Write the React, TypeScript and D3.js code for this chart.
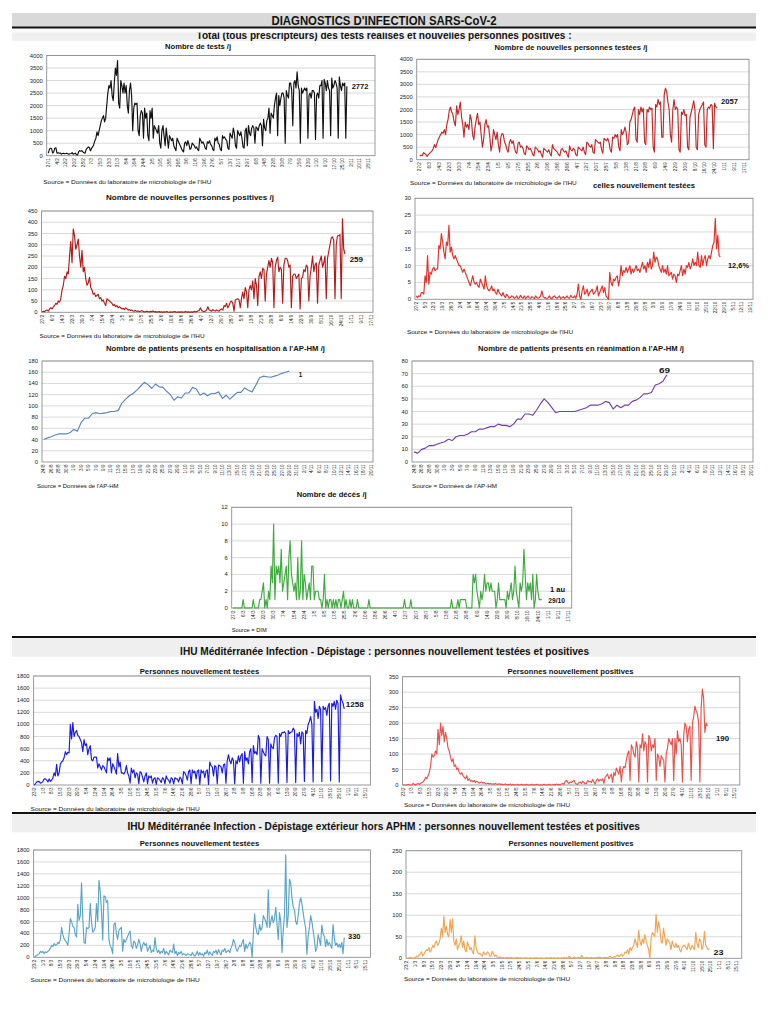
import React from "react";
import * as d3 from "d3";

const FONT = "'Liberation Sans Narrow','Arial Narrow','Liberation Sans',Arial,Helvetica,sans-serif";

// ---------------- tick labels ----------------
const TICKS_TESTS = ["27/1","4/2","12/2","20/2","28/2","7/3","15/3","23/3","31/3","8/4","16/4","24/4","2/5","10/5","18/5","26/5","3/6","11/6","19/6","27/6","5/7","13/7","21/7","29/7","6/8","14/8","22/8","30/8","7/9","15/9","23/9","1/10","9/10","17/10","25/10","2/11","10/11","18/11"];
const TICKS_F27_8 = ["27/2","6/3","14/3","22/3","30/3","7/4","15/4","23/4","1/5","9/5","17/5","25/5","2/6","10/6","18/6","26/6","4/7","12/7","20/7","28/7","5/8","13/8","21/8","29/8","6/9","14/9","22/9","30/9","8/10","16/10","24/10","1/11","9/11","17/11"];
const TICKS_F27_7 = ["27/2","5/3","12/3","19/3","26/3","2/4","9/4","16/4","23/4","30/4","7/5","14/5","21/5","28/5","4/6","11/6","18/6","25/6","2/7","9/7","16/7","23/7","30/7","6/8","13/8","20/8","27/8","3/9","10/9","17/9","24/9","1/10","8/10","15/10","22/10","29/10","5/11","12/11","19/11"];
const TICKS_A24_2 = ["24/8","26/8","28/8","30/8","1/9","3/9","5/9","7/9","9/9","11/9","13/9","15/9","17/9","19/9","21/9","23/9","25/9","27/9","29/9","1/10","3/10","5/10","7/10","9/10","11/10","13/10","15/10","17/10","19/10","21/10","23/10","25/10","27/10","29/10","31/10","2/11","4/11","6/11","8/11","10/11","12/11","14/11","16/11","18/11","20/11"];
const TICKS_F23_7 = ["23/2","1/3","8/3","15/3","22/3","29/3","5/4","12/4","19/4","26/4","3/5","10/5","17/5","24/5","31/5","7/6","14/6","21/6","28/6","5/7","12/7","19/7","26/7","2/8","9/8","16/8","23/8","30/8","6/9","13/9","20/9","27/9","4/10","11/10","18/10","25/10","1/11","8/11","15/11"];

// ---------------- data (daily values) ----------------
// Nombre de tests /j, from 27/1
const TESTS = [
  100,250,300,280,100,150,300,
  320,100,120,100,110,60,90,
  100,80,90,100,80,60,80,
  90,120,60,80,100,40,30,
  150,200,180,200,150,120,100,
  250,300,350,320,200,300,350,
  450,600,700,950,800,1000,1200,
  1400,1500,1600,1350,1500,2000,2500,
  2800,2700,3000,2400,2200,2900,3500,
  3200,3800,2100,1900,3000,2800,2500,
  2900,2500,2800,2000,1700,2600,2900,
  2400,1000,1900,2100,2050,2100,1000,
  800,1600,1800,1700,700,1900,1500,
  1700,800,600,1800,1500,1900,700,
  1200,1100,1000,900,1200,500,300,
  1000,1200,800,400,1100,700,300,
  800,700,600,700,400,300,200,
  700,600,500,400,300,200,150,
  500,550,400,600,450,250,300,
  500,450,400,300,350,250,200,
  700,600,500,550,450,300,250,
  550,500,600,450,400,250,200,
  700,600,750,500,450,250,200,
  800,700,750,650,600,300,250,
  900,800,700,1100,900,400,300,
  1000,900,800,950,700,350,300,
  1000,1100,400,1200,900,800,1100,
  1200,1100,500,1150,1100,1000,1200,
  1300,1200,400,1450,1100,1000,1400,
  1500,1900,900,1700,1600,1500,2000,
  2300,2500,800,2400,2000,2300,2500,
  2500,2300,500,2600,2400,2300,2900,
  2900,2600,1200,2900,3000,2700,3350,
  2800,2600,500,2700,2500,2600,2700,
  2600,2700,700,2400,2500,2300,2600,
  2600,2500,650,2400,2500,2300,2800,
  2800,3000,700,3050,2900,2600,3000,
  2700,2600,800,3100,2700,2800,3000,
  2900,2700,700,3150,2800,2600,2900,
  2800,2900,700,2772,
];

// Nombre de nouvelles personnes testées /j, from 27/2
const NEW_TESTED = [
  150,180,160,280,250,200,130,
  200,250,300,350,450,600,480,
  650,800,900,1000,1100,1050,1200,
  1000,1400,1600,1950,2100,1900,1800,
  1500,1350,2150,1800,2000,2300,1700,
  1400,900,1500,1300,1400,1200,1800,
  1600,1000,800,1300,1600,1850,1400,
  1500,1000,500,800,1400,1600,1300,
  1350,900,350,600,1200,1000,800,
  1100,600,300,900,1050,1000,700,
  600,400,300,700,800,650,750,
  500,300,250,650,700,500,550,
  450,250,200,550,500,400,450,
  350,200,150,500,450,400,300,
  350,200,100,450,400,350,300,
  400,250,150,600,450,400,350,
  300,200,150,400,450,350,300,
  350,200,100,550,400,350,450,
  400,200,150,500,450,400,350,
  500,300,200,700,650,550,500,
  600,300,250,800,750,700,650,
  700,400,250,850,800,750,850,
  700,400,300,900,850,1000,900,
  1000,500,350,1200,1000,1100,1300,
  1100,600,700,1500,1600,1800,2000,
  2100,800,700,2000,1800,2100,1900,
  2050,700,600,2000,1900,2100,2000,
  2050,500,300,2200,2100,2400,2200,
  2300,900,900,2600,2850,2700,2300,
  2000,1000,700,2000,2400,2000,2100,
  2000,400,300,1900,1800,2000,1750,
  1800,500,400,1700,1900,2100,2350,
  2000,500,400,1800,2000,2100,2200,
  2300,600,500,2000,2100,2050,2200,
  2150,450,2250,2100,2057,
];

// Nombre de nouvelles personnes positives /j, from 27/2
const NEW_POSITIVE = [
  2,5,3,8,10,5,15,
  20,15,25,30,40,35,50,
  45,60,100,120,160,150,180,
  170,250,315,220,370,340,280,
  300,325,250,200,275,180,200,
  150,120,130,155,110,100,80,
  85,70,75,80,60,65,50,
  55,40,30,60,55,50,45,
  40,30,35,25,30,20,25,
  20,15,18,12,20,15,10,
  12,8,10,6,5,8,4,
  6,3,5,8,4,2,3,
  5,3,2,4,3,6,2,
  3,1,2,3,1,2,0,
  2,1,3,1,0,2,1,
  1,3,2,0,1,2,1,
  2,1,0,3,1,2,1,
  1,2,0,4,2,3,6,
  8,20,8,5,3,6,10,
  25,10,8,5,12,8,6,
  10,8,5,12,15,10,30,
  25,40,20,30,45,50,40,
  5,55,58,60,55,20,62,
  90,60,110,90,20,100,120,
  100,140,60,150,120,30,160,
  180,150,195,190,50,170,200,
  230,200,240,220,20,200,230,
  245,180,200,190,40,210,240,
  240,230,200,210,20,160,170,
  170,150,160,170,15,150,155,
  190,180,210,200,50,160,200,
  250,180,210,220,40,210,230,
  250,200,220,250,60,240,270,
  300,330,335,320,60,300,340,
  340,345,60,415,280,259,
];

// % positives parmi celles nouvellement testées, from 27/2
const PCT_POSITIVE = [
  1,0.5,1,0.8,2,2,1.5,
  7,5,13,4.5,8,7.5,9,
  9.5,8.5,9,9,16,15,19.5,
  17,14,12,17,16,22,14,
  15.5,13,12,13,12,11,10,
  10,9,8,9,8,7,6,
  5,4,5.5,7,5,4.5,5,
  4,3.5,6,5,4,3,7,
  4,3,2.5,3,4,2.5,3,
  2,1.5,3,2,1.5,1,2,
  1,0.5,1.5,1,0.3,0.5,1,
  0.8,0.3,0.5,1,0.2,0.5,1.2,
  0.5,0.3,1,0.2,0.6,1,0.4,
  0.3,0.8,0.5,0.2,1,0.5,0.3,
  0.5,1,2.5,0.8,0.4,0.5,0.2,
  0.5,1,0.3,0.2,0.8,1,0.5,
  0.3,0.6,1,0.2,0.5,0.8,0.3,
  0.5,1,0.4,0.3,1.2,0.6,0.5,
  1,0.3,1.5,4.5,1,0,2.5,
  4,1.5,2,3,1,2,2.5,
  3,1.5,2,2.5,4,1,2,
  3,4,2,3.5,1,0.5,0,
  8,5,4,6,5.5,6.5,7,
  4,6,10,7,8.5,8,9.5,
  8,9,10,7.5,9,8,9,
  10,8.5,9,8,9.5,11,9,
  10,8,11,9.5,12,9,10,
  14,11,12.5,12,10,9,8,
  10,8,9,7.5,10,7,7.5,
  8,6,7.5,7,5,7.5,7,
  8.5,10,7,9,7.5,10,9.5,
  11,9,10,12,10,11,10,
  14,10,9.5,13,10,12,13,
  10,12,13,12,14,16,17,
  24,15,19,13,12.6,
];

// Patients en hospitalisation AP-HM, from 24/8
const HOSPITAL = [
  40,43,45,48,50,50,50,
  52,58,55,70,78,78,86,
  88,86,87,88,90,90,92,
  105,112,118,122,128,135,142,
  138,131,139,134,133,126,120,
  110,116,114,123,123,133,130,
  119,123,118,122,122,125,113,
  119,112,118,124,124,132,128,
  125,137,150,153,152,151,153,
  155,158,160,162,
];

// Patients en réanimation AP-HM, from 24/8
const REANIMATION = [
  8,7,10,11,13,13,14,
  15,16,18,17,20,21,21,
  22,24,24,26,26,27,28,
  28,30,29,29,28,30,34,
  34,38,38,37,41,46,50,
  47,43,39,40,40,40,40,
  40,41,42,43,45,45,45,
  46,48,47,42,45,43,45,
  45,48,49,51,54,54,55,
  61,62,64,69,
];

// Nombre de décès /j, from 27/2
const DECES = [
  0,0,0,0,0,0,0,0,1,0,
  0,0,0,0,0,0,1,0,0,0,
  0,1,1,2,3,0,1,0,2,1,
  5,3,10,1,5,4,5,3,7,2,
  3,4,5,1,6,8,4,3,2,3,
  1,6,1,2,8,1,4,3,1,2,
  3,1,5,5,1,2,2,2,1,1,
  0,1,4,0,1,0,1,1,0,1,
  0,1,0,1,1,0,1,2,0,1,
  0,0,1,0,1,0,0,0,1,0,
  0,0,0,0,0,0,0,1,0,0,
  0,0,0,0,0,0,0,0,0,0,
  0,0,0,0,0,0,0,0,0,0,
  0,0,0,0,0,1,0,0,0,0,
  1,0,0,0,0,0,0,0,0,0,
  0,0,0,0,0,0,0,0,0,0,
  0,0,0,0,0,0,0,0,0,0,
  0,0,1,0,0,0,0,1,0,1,
  1,1,1,1,0,0,0,0,0,4,
  3,4,2,1,0,2,1,2,4,2,
  3,3,2,3,2,2,2,0,1,3,
  1,1,1,1,1,0,2,1,2,3,
  1,2,5,2,1,0,3,2,3,7,
  4,1,3,2,3,1,4,0,1,4,
  2,1,1,1,
];

// IHU dépistage : personnes nouvellement testées, from 23/2
const IHU_TESTED = [
  0,20,50,60,55,30,40,
  60,100,100,80,50,100,60,
  80,120,200,150,340,150,200,
  350,380,400,450,550,500,540,
  530,1000,760,1030,800,870,900,
  820,800,750,700,550,750,650,
  680,500,600,650,420,400,460,
  460,460,280,350,300,250,320,
  300,250,200,450,400,450,200,
  350,300,250,180,520,300,380,
  200,200,180,220,320,200,150,
  30,280,200,250,120,200,180,
  20,220,200,130,50,150,200,
  20,150,120,150,30,100,120,
  10,120,100,80,40,120,100,
  20,150,100,80,30,120,100,
  20,120,100,100,50,130,100,
  20,220,200,150,80,220,250,
  20,250,200,230,100,230,250,
  10,250,200,230,120,230,250,
  10,380,320,300,150,320,300,
  20,330,320,300,200,330,350,
  30,400,500,400,350,450,400,
  20,400,350,480,380,480,520,
  30,550,400,450,350,550,600,
  40,650,520,550,500,820,760,
  30,600,550,500,480,800,750,
  30,680,620,600,780,820,800,
  30,850,800,870,860,880,850,
  40,900,850,870,880,940,900,
  40,850,800,870,680,880,850,
  60,900,850,1000,1050,1130,1000,
  50,1380,1200,1250,1100,1300,1250,
  60,1300,1250,1280,1150,1300,1350,
  70,1350,1300,1380,1250,1400,1350,
  50,1490,1400,1350,1258,
];

// IHU dépistage : personnes nouvellement positives, from 23/2
const IHU_POSITIVE = [
  0,0,0,0,2,0,0,
  0,5,2,0,3,5,2,
  5,8,10,15,25,20,30,
  40,60,100,90,95,110,100,
  180,130,200,160,190,140,170,
  150,120,110,90,75,85,60,
  65,50,55,40,35,40,30,
  25,20,30,15,20,12,15,
  10,15,8,12,10,6,8,
  10,6,8,5,4,6,3,
  5,3,4,2,5,3,2,
  4,2,3,1,2,3,1,
  2,1,3,0,2,1,0,
  1,2,0,1,2,0,1,
  0,2,1,0,1,2,0,
  1,0,2,1,0,1,0,
  0,2,1,0,1,2,1,
  0,1,2,0,3,1,2,
  1,3,5,2,12,15,8,
  5,10,8,12,15,6,3,
  2,8,10,5,12,8,4,
  5,15,10,12,8,18,10,
  3,15,20,12,18,15,20,
  5,25,30,35,20,28,35,
  8,40,30,55,45,35,60,
  10,50,60,55,80,100,110,
  15,130,120,100,90,140,120,
  10,130,120,165,110,140,130,
  10,160,150,110,130,120,150,
  15,100,90,60,95,85,80,
  10,100,120,150,140,130,150,
  15,150,100,175,140,150,130,
  10,160,200,190,140,180,190,
  15,200,220,255,240,230,200,
  10,250,310,280,170,200,190,
];

// Dépistage extérieur hors APHM : personnes nouvellement testées, from 23/2
const EXT_TESTED = [
  0,20,30,50,60,100,80,
  100,60,90,80,100,120,150,
  200,180,230,200,210,250,230,
  300,500,380,310,280,250,200,
  400,650,600,520,500,380,340,
  890,620,700,1250,650,250,230,
  500,480,500,900,600,420,450,
  500,900,600,1290,1100,800,290,
  1030,1020,920,950,300,200,150,
  60,550,580,400,300,450,480,
  500,100,300,250,300,350,400,
  440,200,150,270,250,150,200,
  300,230,100,200,250,200,230,
  100,150,200,80,120,100,330,
  150,80,120,60,100,80,150,
  50,100,70,40,120,100,80,
  220,60,100,30,80,60,100,
  40,60,50,30,60,50,40,
  30,80,40,20,50,100,30,
  80,40,60,20,80,60,120,
  40,90,60,30,100,80,120,
  50,130,80,40,120,100,150,
  80,100,120,80,150,200,300,
  250,150,100,150,200,180,250,
  300,100,220,150,200,250,220,
  0,400,730,500,400,380,550,
  450,500,700,650,600,500,1130,
  500,600,700,580,650,840,550,
  300,750,600,80,450,700,1720,
  500,700,1310,1250,1000,850,800,
  600,550,700,900,1000,900,750,
  600,500,50,350,500,700,600,
  450,300,100,150,380,300,200,
  540,400,350,180,300,200,250,
  200,150,550,330,200,240,170,
  220,160,250,60,330,
];

// Dépistage extérieur hors APHM : personnes nouvellement positives, from 23/2
const EXT_POSITIVE = [
  0,0,1,2,1,0,0,
  2,5,3,8,10,15,5,
  10,15,20,18,25,15,20,
  30,25,35,40,30,35,45,
  70,50,98,60,75,55,50,
  90,60,92,40,30,45,20,
  30,35,52,25,40,20,15,
  38,30,20,25,15,10,52,
  25,15,10,12,8,5,15,
  10,8,15,12,5,5,16,
  10,5,8,3,2,3,2,
  1,2,0,1,2,1,0,
  2,1,0,1,0,2,1,
  0,1,0,0,1,0,1,
  0,0,1,0,0,1,0,
  1,0,0,1,0,0,0,
  0,1,0,0,2,0,0,
  1,0,0,1,0,0,1,
  0,2,0,1,0,5,2,
  1,0,3,1,0,2,1,
  0,7,2,1,0,2,1,
  0,1,2,0,1,0,2,
  1,3,2,1,0,2,1,
  2,1,3,5,2,1,4,
  3,5,8,4,6,10,5,
  8,15,12,20,10,25,18,
  25,30,45,35,25,65,40,
  30,45,35,55,40,30,20,
  0,45,60,55,50,102,60,
  85,70,40,35,70,50,30,
  45,40,35,20,40,30,25,
  35,25,30,20,15,25,30,
  30,25,20,35,25,20,30,
  25,20,60,35,25,45,40,
  20,30,62,30,25,20,23,
];

// ---------------- chart panel ----------------
type PanelProps = {
  data: number[];
  color: string;
  ticks: string[];
  tickStep: number;
  box: [number, number, number, number];
  dom: [number, number];
  yMax: number;
  yStep: number;
  lw?: number;
};

function Panel({ data, color, ticks, tickStep, box, dom, yMax, yStep, lw = 1.15 }: PanelProps) {
  const [x0, x1, yt, yb] = box;
  const x = d3.scaleLinear().domain(dom).range([x0, x1]);
  const y = d3.scaleLinear().domain([0, yMax]).range([yb, yt]);
  const yTicks = d3.range(0, yMax + yStep / 2, yStep);
  const line = d3.line<number>().x((_, i) => x(i)).y((d) => y(d)).curve(d3.curveLinear);
  return (
    <g>
      {yTicks.filter((v) => v > 0).map((v) => (
        <line key={"g" + v} x1={x0} x2={x1} y1={y(v)} y2={y(v)} stroke="#cfcfcf" strokeWidth={0.8} />
      ))}
      <rect x={x0} y={yt} width={x1 - x0} height={yb - yt} fill="none" stroke="#8e8e8e" strokeWidth={0.9} />
      {yTicks.map((v) => (
        <text key={"y" + v} x={x0 - 4} y={y(v)} dy="0.35em" textAnchor="end" fontSize={5.8} fill="#222">
          {v}
        </text>
      ))}
      {ticks.map((t, i) => (
        <text
          key={"x" + i}
          transform={`translate(${x(i * tickStep)},${yb + 2.5}) rotate(-90)`}
          dy="0.35em"
          textAnchor="end"
          fontSize={4.6}
          fill="#222"
        >
          {t}
        </text>
      ))}
      <path d={line(data) || ""} fill="none" stroke={color} strokeWidth={lw} strokeLinejoin="round" />
    </g>
  );
}

function T({ x, y, w, size, bold = true, anchor = "middle", children, fill = "#111" }: any) {
  return (
    <text
      x={x}
      y={y}
      dy="0.35em"
      fontSize={size}
      fontWeight={bold ? "bold" : "normal"}
      textAnchor={anchor}
      textLength={w}
      lengthAdjust="spacingAndGlyphs"
      fill={fill}
    >
      {children}
    </text>
  );
}

const SRC_IHU = "Source = Données du laboratoire de microbiologie de l'IHU";
const SRC_APHM = "Source = Données de l'AP-HM";

export default function App() {
  return (
    <div style={{ position: "absolute", left: 0, top: 0 }}>
      <svg width={774} height={1024} viewBox="0 0 774 1024" style={{ display: "block", background: "#fff", fontFamily: FONT }}>
        <rect x={0} y={0} width={774} height={1024} fill="#fff" />

        {/* header */}
        <rect x={12} y={13} width={744} height={14} fill="#d9d9d9" />
        <T x={384} y={20.5} w={225} size={12}>DIAGNOSTICS D'INFECTION SARS-CoV-2</T>
        <rect x={12} y={29} width={744} height={12} fill="#f0f0f0" />
        <T x={384} y={35.3} w={375} size={11}>Total (tous prescripteurs) des tests réalisés et nouvelles personnes positives :</T>
        <rect x={12} y={28} width={744} height={4.6} fill="#fbfbfb" />
        <line x1={12} x2={756} y1={27.5} y2={27.5} stroke="#111" strokeWidth={1.8} />

        {/* chart 1 */}
        <T x={198} y={46.5} w={66} size={7}>Nombre de tests /j</T>
        <Panel data={TESTS} color="#111" ticks={TICKS_TESTS} tickStep={8} box={[46.7, 375, 55.5, 155.7]} dom={[-1.5, 302]} yMax={4000} yStep={500} />
        <T x={351.7} y={86} w={16.7} size={7.5} anchor="start">2772</T>
        <T x={43.3} y={181.7} w={168} size={5.6} bold={false} anchor="start">{SRC_IHU}</T>

        {/* chart 2 */}
        <T x={571} y={47.3} w={153} size={7}>Nombre de nouvelles personnes testées /j</T>
        <Panel data={NEW_TESTED} color="#c0282a" ticks={TICKS_F27_8} tickStep={8} box={[416.7, 749, 59.3, 159.7]} dom={[-2.5, 268]} yMax={4000} yStep={500} />
        <T x={721} y={101.7} w={17} size={7.5} anchor="start">2057</T>
        <T x={410} y={183.3} w={166.7} size={5.6} bold={false} anchor="start">{SRC_IHU}</T>
        <T x={644} y={185.7} w={102} size={7}>celles nouvellement testées</T>

        {/* chart 3 */}
        <T x={190} y={197.3} w={168} size={7}>Nombre de nouvelles personnes positives /j</T>
        <Panel data={NEW_POSITIVE} color="#b31b1b" ticks={TICKS_F27_8} tickStep={8} box={[41.5, 373, 211, 312.3]} dom={[-0.5, 265.5]} yMax={450} yStep={50} />
        <T x={349.7} y={259} w={13.3} size={7.5} anchor="start">259</T>
        <T x={39.5} y={335.7} w={165} size={5.6} bold={false} anchor="start">{SRC_IHU}</T>

        {/* chart 4 */}
        <Panel data={PCT_POSITIVE} color="#e2302a" ticks={TICKS_F27_7} tickStep={7} box={[415, 753, 198.3, 299.3]} dom={[-1, 268]} yMax={30} yStep={5} />
        <T x={728} y={265} w={21} size={7.5} anchor="start">12,6%</T>
        <T x={407} y={331.7} w={166} size={5.6} bold={false} anchor="start">{SRC_IHU}</T>

        {/* hospitalisation */}
        <T x={215.5} y={348.3} w={219} size={7}>Nombre de patients présents en hospitalisation à l'AP-HM /j</T>
        <Panel data={HOSPITAL} color="#5b86bb" ticks={TICKS_A24_2} tickStep={2} box={[42, 373, 361, 462]} dom={[-0.5, 88.5]} yMax={180} yStep={20} />
        <T x={298.8} y={374} w={3.5} size={7.5} anchor="start">1</T>
        <T x={37} y={485.7} w={81.5} size={5.6} bold={false} anchor="start">{SRC_APHM}</T>

        {/* réanimation */}
        <T x={581} y={348.3} w={206} size={7}>Nombre de patients présents en réanimation à l'AP-HM /j</T>
        <Panel data={REANIMATION} color="#7440a2" ticks={TICKS_A24_2} tickStep={2} box={[412, 753, 361, 462]} dom={[-0.5, 88.5]} yMax={80} yStep={10} />
        <T x={659} y={370.5} w={11} size={7.5} anchor="start">69</T>
        <T x={412} y={485.7} w={85} size={5.6} bold={false} anchor="start">{SRC_APHM}</T>

        {/* décès */}
        <T x={331.7} y={495} w={70} size={7}>Nombre de décès /j</T>
        <Panel data={DECES} color="#3dab3d" ticks={TICKS_F27_8} tickStep={8} box={[231.7, 571.7, 507.3, 608]} dom={[-1, 266.6]} yMax={12} yStep={2} />
        <T x={550} y={589} w={15} size={7.5} anchor="start">1 au</T>
        <T x={548.3} y={600.7} w={16.7} size={7.5} anchor="start">29/10</T>
        <T x={231.7} y={630} w={35} size={5.6} bold={false} anchor="start">Source = DIM</T>

        {/* section 2 */}
        <line x1={12} x2={756} y1={637} y2={637} stroke="#111" strokeWidth={2.2} />
        <rect x={12} y={638.2} width={744} height={18.5} fill="#efefef" />
        <T x={384.6} y={651.7} w={409} size={10.5}>IHU Méditérranée Infection - Dépistage : personnes nouvellement testées et positives</T>

        <T x={199.5} y={671.7} w={119.5} size={7}>Personnes nouvellement testées</T>
        <Panel data={IHU_TESTED} color="#1a1ae6" ticks={TICKS_F23_7} tickStep={7} box={[33.6, 370.4, 676, 785]} dom={[-0.5, 270]} yMax={1800} yStep={200} />
        <T x={345.7} y={704} w={18} size={7.5} anchor="start">1258</T>
        <T x={30.6} y={809} w={169} size={5.6} bold={false} anchor="start">{SRC_IHU}</T>

        <T x={570.5} y={671.7} w={126} size={7}>Personnes nouvellement positives</T>
        <Panel data={IHU_POSITIVE} color="#e8524c" ticks={TICKS_F23_7} tickStep={7} box={[402.5, 739.8, 676.7, 785]} dom={[-0.5, 270]} yMax={350} yStep={50} />
        <T x={716} y={738} w={13} size={7.5} anchor="start">190</T>
        <T x={404} y={805} w={166} size={5.6} bold={false} anchor="start">{SRC_IHU}</T>

        {/* section 3 */}
        <line x1={12} x2={756} y1={813} y2={813} stroke="#111" strokeWidth={2.2} />
        <rect x={12} y={814.2} width={744} height={18} fill="#efefef" />
        <T x={383.7} y={826.7} w={512.6} size={10.5}>IHU Méditérranée Infection - Dépistage extérieur hors APHM : personnes nouvellement testées et positives</T>

        <T x={199.5} y={844} w={119.5} size={7}>Personnes nouvellement testées</T>
        <Panel data={EXT_TESTED} color="#5aa5c8" ticks={TICKS_F23_7} tickStep={7} box={[33.6, 370.4, 850, 957.3]} dom={[-0.5, 270]} yMax={1800} yStep={200} />
        <T x={348} y={936.7} w={12.5} size={7.5} anchor="start">330</T>
        <T x={30.6} y={980} w={169} size={5.6} bold={false} anchor="start">{SRC_IHU}</T>

        <T x={571} y={844} w={125} size={7}>Personnes nouvellement positives</T>
        <Panel data={EXT_POSITIVE} color="#f0a452" ticks={TICKS_F23_7} tickStep={7} box={[406, 741.7, 850.7, 958.3]} dom={[-0.5, 270]} yMax={250} yStep={50} />
        <T x={713.6} y={952.7} w={10} size={7.5} anchor="start">23</T>
        <T x={404} y={979} w={166} size={5.6} bold={false} anchor="start">{SRC_IHU}</T>
      </svg>
    </div>
  );
}
